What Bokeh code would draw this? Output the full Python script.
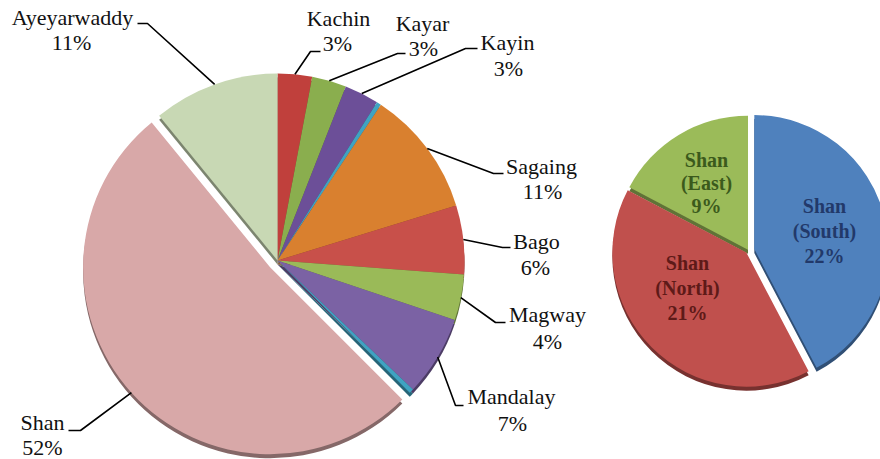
import math
from bokeh.plotting import figure
from bokeh.models import Range1d, ColumnDataSource
from bokeh.core.properties import value
from bokeh.embed import file_html
from bokeh.resources import INLINE

# ---------------- data ----------------
regions = ["Kachin", "Kayar", "Kayin", "", "Sagaing", "Bago", "Magway",
           "Mandalay", "", "Shan", "Ayeyarwaddy"]
shares = [3, 3, 3, 0.4, 11, 6, 4, 7, 0.4, 52, 11]

shan_parts = ["Shan (South)", "Shan (North)", "Shan (East)"]
shan_shares = [22, 21, 9]

# ---------------- styles / layout ----------------
region_colors = ["#c0403c", "#8aae4e", "#6c4f98", "#3fa3c2", "#d9802f",
                 "#c8504a", "#9aba58", "#7b62a4", "#3fa3c2", "#d8a8a8",
                 "#c8d8b4"]
region_explode = [0, 0, 0, 0, 0, 0, 0, 0, 0, 10, 0]
shan_colors = ["#4f81bd", "#c0504d", "#9bbb59"]
shan_text_colors = ["#22396a", "#5e1a18", "#3b5a1c"]
shan_explode = [6, 3, 1]

FONT = value("Liberation Serif")

W, H = 880, 459


def X(px):  # screen px -> data
    return px


def Y(py):
    return H - py


# label layout (screen px): name centre, pct centre, leader end, elbow
label_layout = {
    "Kachin": ((338, 18), (337, 43), (320, 51), (310, 51)),
    "Kayar": ((422, 23), (423, 48), (405, 53), (397, 53)),
    "Kayin": ((507, 42), (508, 68), (477, 48), (465, 48)),
    "Sagaing": ((541, 166), (542, 191), (503, 173), (493, 173)),
    "Bago": ((536, 241), (535, 267), (510, 247), (502, 247)),
    "Magway": ((547, 314), (547, 341), (505, 322), (495, 322)),
    "Mandalay": ((511, 396), (512, 423), (463, 405), (455, 405)),
    "Shan": ((42, 422), (42, 447), (68, 430), (80, 430)),
    "Ayeyarwaddy": ((72, 17), (71, 42), (137, 23), (147, 23)),
}
shan_label_layout = [
    ((824, 205), 25),
    ((687, 262), 25),
    ((706, 159), 23),
]

L_CX, L_CY, L_R = X(277), Y(260), 187
R_CX, R_CY, R_R = X(748), Y(250), 134
DEPTH = 4


def darker(h, f=0.62):
    h = h.lstrip("#")
    r, g, b = (int(h[i:i + 2], 16) for i in (0, 2, 4))
    return "#%02x%02x%02x" % (int(r * f), int(g * f), int(b * f))


def pie(values, cx, cy, r, explode):
    total = float(sum(values))
    cum = 0.0
    out = []
    for v, e in zip(values, explode):
        t0 = cum / total * 2 * math.pi
        t1 = (cum + v) / total * 2 * math.pi
        cum += v
        mid = (t0 + t1) / 2
        ox = cx + e * math.sin(mid)
        oy = cy + e * math.cos(mid)
        out.append(dict(x=ox, y=oy, start=math.pi / 2 - t1,
                        end=math.pi / 2 - t0, mid=mid, r=r, e=e))
    return out


p = figure(width=W, height=H, x_range=Range1d(0, W), y_range=Range1d(0, H),
           output_backend="svg", toolbar_location=None, min_border=0,
           x_axis_location=None, y_axis_location=None)
p.grid.visible = False
p.outline_line_color = None
p.background_fill_color = "white"
p.border_fill_color = "white"


def draw_pie(geom, colors):
    src_shadow = ColumnDataSource(dict(
        x=[g["x"] for g in geom], y=[g["y"] - DEPTH for g in geom],
        s=[g["start"] for g in geom], e=[g["end"] for g in geom],
        c=[darker(c) for c in colors]))
    p.wedge(x="x", y="y", radius=geom[0]["r"], start_angle="s", end_angle="e",
            fill_color="c", line_color=None, source=src_shadow)
    src = ColumnDataSource(dict(
        x=[g["x"] for g in geom], y=[g["y"] for g in geom],
        s=[g["start"] for g in geom], e=[g["end"] for g in geom], c=colors))
    p.wedge(x="x", y="y", radius=geom[0]["r"], start_angle="s", end_angle="e",
            fill_color="c", line_color=None, source=src)


# ---- left pie ----
lg = pie(shares, L_CX, L_CY, L_R, region_explode)
draw_pie(lg, region_colors)

lx, ly, tx, ty, tt = [], [], [], [], []
for name, v, g in zip(regions, shares, lg):
    if not name:
        continue
    (nc, pc, end, elbow) = label_layout[name]
    rr = L_R + g["e"]
    ax = L_CX + rr * math.sin(g["mid"])
    ay = L_CY + rr * math.cos(g["mid"])
    lx.append([ax, X(elbow[0]), X(end[0])])
    ly.append([ay, Y(elbow[1]), Y(end[1])])
    tx += [X(nc[0]), X(pc[0])]
    ty += [Y(nc[1]), Y(pc[1])]
    tt += [name, "%g%%" % v]

p.multi_line(xs=lx, ys=ly, line_color="black", line_width=1.6)
p.text(x=tx, y=ty, text=tt, text_font=FONT,
       text_font_size="22px", text_align="center", text_baseline="middle",
       text_color="#111111")

# ---- right pie ----
rg = pie(shan_shares, R_CX, R_CY, R_R, shan_explode)
draw_pie(rg, shan_colors)

stx, sty, stt, stc = [], [], [], []
for name, v, (pos, step), col in zip(shan_parts, shan_shares,
                                     shan_label_layout, shan_text_colors):
    parts = name.split(" ") + ["%g%%" % v]
    for i, line in enumerate(parts):
        stx.append(X(pos[0]))
        sty.append(Y(pos[1] + i * step))
        stt.append(line)
        stc.append(col)
p.text(x=stx, y=sty, text=stt, text_color=stc,
       text_font=FONT, text_font_style="bold",
       text_font_size="20px", text_align="center", text_baseline="middle")

open("out.html", "w").write(file_html(p, INLINE))
